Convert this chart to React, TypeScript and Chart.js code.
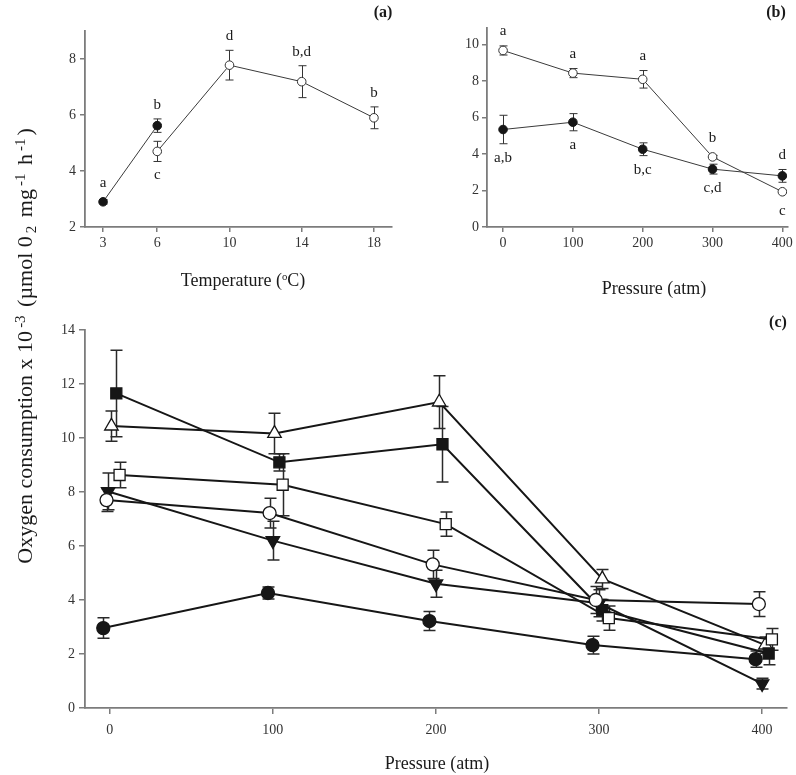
import React, { useEffect, useRef } from "react";
import { Chart, registerables } from "chart.js";

Chart.register(...registerables);

const SERIF = '"Liberation Serif", "Times New Roman", serif';
const AXIS = "#7c7c7c";
const INK = "#161616";

// ---------- Panel (a): temperature ----------
const tempTicks = [3, 6, 10, 14, 18];
const aYTicks = [2, 4, 6, 8];
const aFilledTemp = [3, 6];
const aFilledRate = [2.9, 5.62];
const aFilledErr = [0.08, 0.24];
const aFilledLetters = ["a", "b"];
const aFilledSide = ["above", "above"];
const aOpenTemp = [6, 10, 14, 18];
const aOpenRate = [4.7, 7.78, 7.19, 5.9];
const aOpenErr = [0.36, 0.53, 0.57, 0.39];
const aOpenLetters = ["c", "d", "b,d", "b"];
const aOpenSide = ["below", "above", "above", "above"];

// ---------- Panel (b): pressure ----------
const pressureTicks = [0, 100, 200, 300, 400];
const bYTicks = [0, 2, 4, 6, 8, 10];
const bPressure = [0, 100, 200, 300, 400];
const bOpenRate = [9.67, 8.43, 8.09, 3.84, 1.93];
const bOpenErr = [0.25, 0.25, 0.48, 0.08, 0.08];
const bOpenLetters = ["a", "a", "a", "b", "c"];
const bOpenSide = ["above", "above", "above", "above", "below"];
const bFilledRate = [5.34, 5.74, 4.26, 3.17, 2.8];
const bFilledErr = [0.78, 0.47, 0.35, 0.27, 0.35];
const bFilledLetters = ["a,b", "a", "b,c", "c,d", "d"];
const bFilledSide = ["below", "below", "below", "below", "above"];

// ---------- Panel (c): pressure, six groups ----------
const cYTicks = [0, 2, 4, 6, 8, 10, 12, 14];
const filledCircleP = [-4, 97, 196, 296, 396];
const filledCircleV = [2.96, 4.26, 3.22, 2.33, 1.81];
const filledCircleE = [0.38, 0.22, 0.35, 0.33, 0.3];
const openCircleP = [-2, 98, 198, 298, 398];
const openCircleV = [7.7, 7.22, 5.32, 4.0, 3.85];
const openCircleE = [0.42, 0.55, 0.52, 0.5, 0.46];
const downTriP = [-1, 100, 200, 300, 400];
const downTriV = [8.02, 6.2, 4.6, 3.88, 0.9];
const downTriE = [0.68, 0.72, 0.5, 0.5, 0.2];
const openSquareP = [6, 106, 206, 306, 406];
const openSquareV = [8.63, 8.27, 6.81, 3.33, 2.54];
const openSquareE = [0.47, 1.15, 0.45, 0.45, 0.4];
const filledSquareP = [4, 104, 204, 302, 404];
const filledSquareV = [11.65, 9.1, 9.77, 3.62, 2.02];
const filledSquareE = [1.6, 0.32, 1.4, 0.4, 0.42];
const upTriP = [1, 101, 202, 302, 402];
const upTriV = [10.44, 10.17, 11.33, 4.78, 2.33];
const upTriE = [0.56, 0.75, 0.98, 0.35, 0.3];

const pts = (xs: number[], ys: number[]) => xs.map((x, i) => ({ x, y: ys[i] }));

const errorBarPlugin = {
  id: "errorBarsAndLetters",
  beforeDatasetsDraw(chart: any) {
    const { ctx } = chart;
    const yScale = chart.scales.y;
    chart.data.datasets.forEach((ds: any, i: number) => {
      if (!ds.errors) return;
      const meta = chart.getDatasetMeta(i);
      ctx.save();
      ctx.strokeStyle = ds.errColor;
      ctx.lineWidth = ds.errWidth;
      meta.data.forEach((pt: any, j: number) => {
        const v = ds.data[j].y;
        const e = ds.errors[j];
        const x = Math.round(pt.x) + 0.5;
        const yT = yScale.getPixelForValue(v + e);
        const yB = yScale.getPixelForValue(v - e);
        const cw = ds.capWidth / 2;
        ctx.beginPath();
        ctx.moveTo(x, yT);
        ctx.lineTo(x, yB);
        ctx.moveTo(x - cw, yT);
        ctx.lineTo(x + cw, yT);
        ctx.moveTo(x - cw, yB);
        ctx.lineTo(x + cw, yB);
        ctx.stroke();
      });
      ctx.restore();
    });
  },
  afterDatasetsDraw(chart: any) {
    const { ctx } = chart;
    const yScale = chart.scales.y;
    chart.data.datasets.forEach((ds: any, i: number) => {
      if (!ds.letters) return;
      const meta = chart.getDatasetMeta(i);
      ctx.save();
      ctx.fillStyle = "#1a1a1a";
      ctx.font = `15px ${SERIF}`;
      ctx.textAlign = "center";
      ctx.textBaseline = "middle";
      meta.data.forEach((pt: any, j: number) => {
        const v = ds.data[j].y;
        const e = ds.errors ? ds.errors[j] : 0;
        const above = ds.letterSide[j] === "above";
        const yEnd = yScale.getPixelForValue(above ? v + e : v - e);
        const y = above ? Math.min(yEnd, pt.y - 5) - 14 : Math.max(yEnd, pt.y + 5) + 14;
        ctx.fillText(ds.letters[j], pt.x, y);
      });
      ctx.restore();
    });
  },
};

function axis(min: number, max: number, ticks: number[], fit: { w?: number; h?: number }, pad: number, tickLen: number) {
  return {
    type: "linear",
    min,
    max,
    afterBuildTicks: (s: any) => {
      s.ticks = ticks.map((v) => ({ value: v }));
    },
    afterFit: (s: any) => {
      if (fit.w != null) s.width = fit.w;
      if (fit.h != null) s.height = fit.h;
    },
    grid: { display: true, drawOnChartArea: false, drawTicks: true, tickLength: tickLen, color: AXIS, lineWidth: 1.5 },
    border: { display: true, color: AXIS, width: 1.8 },
    ticks: { color: "#333", font: { family: SERIF, size: 14 }, padding: pad, autoSkip: false, maxRotation: 0 },
  };
}

function smallSeries(xs: number[], ys: number[], es: number[], letters: string[], side: string[], filled: boolean) {
  return {
    data: pts(xs, ys),
    errors: es,
    letters,
    letterSide: side,
    borderColor: "#3a3a3a",
    borderWidth: 1,
    tension: 0,
    fill: false,
    pointStyle: "circle",
    pointRadius: 4.3,
    pointBackgroundColor: filled ? INK : "#fff",
    pointBorderColor: filled ? INK : "#333",
    pointBorderWidth: 1,
    errColor: "#333",
    errWidth: 1,
    capWidth: 8,
  };
}

function bigSeries(xs: number[], ys: number[], es: number[], style: string, filled: boolean, radius: number, rotation = 0) {
  return {
    data: pts(xs, ys),
    errors: es,
    borderColor: INK,
    borderWidth: 2,
    tension: 0,
    fill: false,
    pointStyle: style,
    pointRadius: radius,
    pointRotation: rotation,
    pointBackgroundColor: filled ? INK : "#fff",
    pointBorderColor: INK,
    pointBorderWidth: 1.3,
    errColor: "#2a2a2a",
    errWidth: 1.5,
    capWidth: 12,
  };
}

function baseOptions(padding: any, x: any, y: any) {
  return {
    responsive: false,
    animation: false,
    events: [],
    layout: { padding },
    plugins: { legend: { display: false }, tooltip: { enabled: false }, title: { display: false } },
    scales: { x, y },
  };
}

const supStyle: any = { fontSize: "0.68em", verticalAlign: "0.5em", lineHeight: 0, margin: "0 3px" };
const subStyle: any = { fontSize: "0.68em", verticalAlign: "-0.3em", lineHeight: 0, margin: "0 3px" };
const degStyle: any = { fontSize: "0.6em", verticalAlign: "0.6em", lineHeight: 0 };

function CenterText({ cx, cy, size, bold, children }: any) {
  return (
    <div
      style={{
        position: "absolute",
        left: cx - 150,
        top: cy - 12,
        width: 300,
        height: 24,
        lineHeight: "24px",
        textAlign: "center",
        fontFamily: SERIF,
        fontSize: size,
        fontWeight: bold ? "bold" : "normal",
        color: "#1a1a1a",
        whiteSpace: "nowrap",
      }}
    >
      {children}
    </div>
  );
}

export default function App() {
  const refA = useRef<HTMLCanvasElement>(null);
  const refB = useRef<HTMLCanvasElement>(null);
  const refC = useRef<HTMLCanvasElement>(null);

  useEffect(() => {
    const chartA = new Chart(refA.current as any, {
      type: "line",
      data: {
        datasets: [
          smallSeries(aFilledTemp, aFilledRate, aFilledErr, aFilledLetters, aFilledSide, true),
          smallSeries(aOpenTemp, aOpenRate, aOpenErr, aOpenLetters, aOpenSide, false),
        ] as any,
      },
      options: baseOptions(
        { left: 0, top: 31, right: 8, bottom: 0 },
        axis(2, 19, tempTicks, { h: 73 }, 3, 5),
        axis(2, 9, aYTicks, { w: 85 }, 4, 5)
      ) as any,
      plugins: [errorBarPlugin],
    });
    const chartB = new Chart(refB.current as any, {
      type: "line",
      data: {
        datasets: [
          smallSeries(bPressure, bOpenRate, bOpenErr, bOpenLetters, bOpenSide, false),
          smallSeries(bPressure, bFilledRate, bFilledErr, bFilledLetters, bFilledSide, true),
        ] as any,
      },
      options: baseOptions(
        { left: 0, top: 28, right: 8, bottom: 0 },
        axis(-23, 407, pressureTicks, { h: 73 }, 3, 5),
        axis(0, 10.9, bYTicks, { w: 87 }, 3, 5)
      ) as any,
      plugins: [errorBarPlugin],
    });
    const chartC = new Chart(refC.current as any, {
      type: "line",
      data: {
        datasets: [
          bigSeries(filledCircleP, filledCircleV, filledCircleE, "circle", true, 6.5),
          bigSeries(openCircleP, openCircleV, openCircleE, "circle", false, 6.5),
          bigSeries(downTriP, downTriV, downTriE, "triangle", true, 7.8, 180),
          bigSeries(openSquareP, openSquareV, openSquareE, "rect", false, 7.8),
          bigSeries(filledSquareP, filledSquareV, filledSquareE, "rect", true, 7.8),
          bigSeries(upTriP, upTriV, upTriE, "triangle", false, 7.8),
        ] as any,
      },
      options: baseOptions(
        { left: 0, top: 30, right: 4, bottom: 0 },
        axis(-15.2, 415.2, pressureTicks, { h: 67 }, 8, 6),
        axis(0, 14, cYTicks, { w: 85 }, 4, 6)
      ) as any,
      plugins: [errorBarPlugin],
    });
    return () => {
      chartA.destroy();
      chartB.destroy();
      chartC.destroy();
    };
  }, []);

  return (
    <div style={{ position: "absolute", left: 0, top: 0, width: 796, height: 775, background: "#fff", overflow: "hidden" }}>
      <canvas ref={refA} width={400} height={300} style={{ position: "absolute", left: 0, top: 0, width: 400, height: 300 }} />
      <canvas ref={refB} width={396} height={300} style={{ position: "absolute", left: 400, top: 0, width: 396, height: 300 }} />
      <canvas ref={refC} width={796} height={475} style={{ position: "absolute", left: 0, top: 300, width: 796, height: 475 }} />

      <CenterText cx={243} cy={280} size={18}>
        Temperature (<span style={degStyle}>o</span>C)
      </CenterText>
      <CenterText cx={654} cy={288} size={18}>Pressure (atm)</CenterText>
      <CenterText cx={437} cy={763} size={18}>Pressure (atm)</CenterText>

      <CenterText cx={383} cy={12} size={16} bold>(a)</CenterText>
      <CenterText cx={776} cy={12} size={16} bold>(b)</CenterText>
      <CenterText cx={778} cy={322} size={16} bold>(c)</CenterText>

      <div
        style={{
          position: "absolute",
          left: 25 - 260,
          top: 346 - 15,
          width: 520,
          height: 30,
          lineHeight: "30px",
          textAlign: "center",
          transform: "rotate(-90deg)",
          transformOrigin: "50% 50%",
          fontFamily: SERIF,
          fontSize: 22,
          color: "#1a1a1a",
          whiteSpace: "nowrap",
        }}
      >
        Oxygen consumption x 10<span style={supStyle}>-3</span> (µmol 0<span style={subStyle}>2</span> mg
        <span style={supStyle}>-1</span> h<span style={supStyle}>-1</span>)
      </div>
    </div>
  );
}
